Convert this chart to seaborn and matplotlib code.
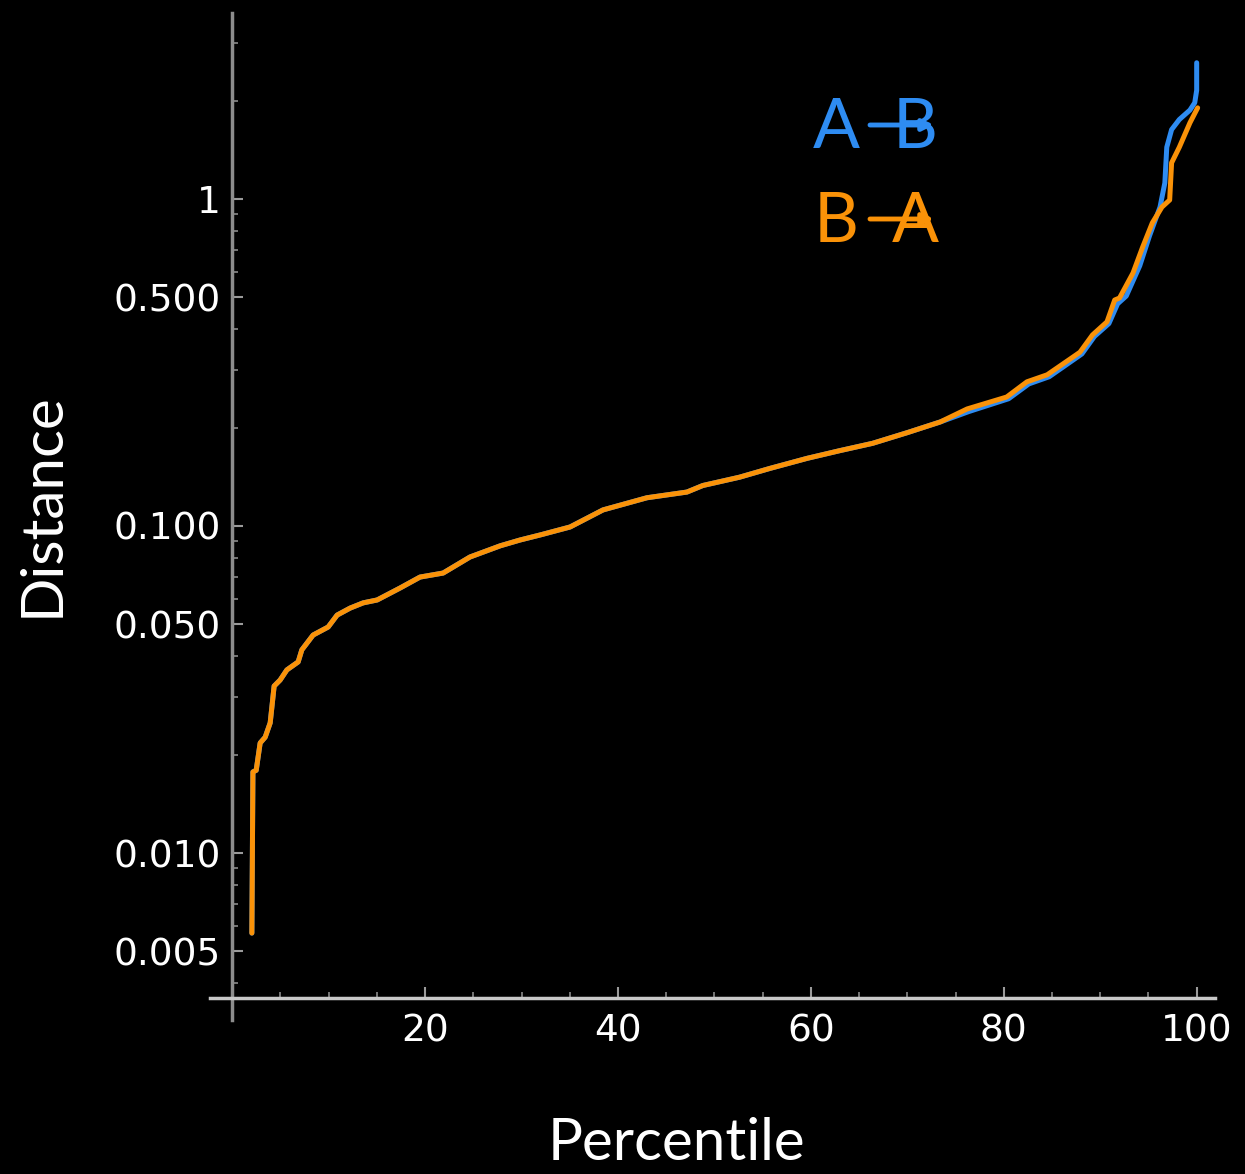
import numpy as np
import pandas as pd
import matplotlib
matplotlib.use("Agg")
import matplotlib.pyplot as plt
import seaborn as sns
from matplotlib.ticker import FixedLocator, NullFormatter

# shared part of both curves (percentile, distance)
common_pct = [2.04, 2.15, 2.49, 2.90, 3.42, 3.94, 4.35, 4.97, 5.67, 6.84, 7.22, 8.39,
              9.95, 10.88, 12.23, 13.58, 15.03, 17.4, 19.48, 21.87, 24.66, 27.8,
              29.84, 32.0, 35.03, 38.45, 43.0, 47.15, 48.8, 52.6, 55.75, 59.6,
              63.0, 66.4, 70.0, 73.4]
common_dist = [0.00569, 0.0177, 0.0179, 0.0217, 0.0226, 0.0250, 0.0324, 0.0338, 0.0363,
               0.0384, 0.0418, 0.0464, 0.0491, 0.0534, 0.0561, 0.0582, 0.0594, 0.0646,
               0.0698, 0.0718, 0.0804, 0.0870, 0.0906, 0.0940, 0.0993, 0.112, 0.122,
               0.127, 0.133, 0.141, 0.150, 0.161, 0.170, 0.179, 0.193, 0.208]

# A -> B tail
ab_pct = [76.4, 80.5, 82.6, 84.7, 87.4, 88.1, 89.4, 90.9, 91.8, 92.7, 94.1, 95.1,
          96.2, 96.7, 96.9, 97.4, 98.2, 99.3, 99.8, 100.0, 100.0]
ab_dist = [0.224, 0.245, 0.272, 0.286, 0.325, 0.336, 0.380, 0.416, 0.478, 0.505,
           0.625, 0.770, 0.945, 1.12, 1.44, 1.63, 1.75, 1.87, 1.97, 2.15, 2.61]

# B -> A tail
ba_pct = [76.2, 80.3, 82.4, 84.5, 87.2, 87.9, 89.2, 90.7, 91.5, 92.0, 93.4, 94.4,
          95.4, 96.4, 97.2, 97.4, 98.2, 99.3, 100.1]
ba_dist = [0.228, 0.248, 0.276, 0.290, 0.329, 0.340, 0.384, 0.421, 0.491, 0.498,
           0.594, 0.713, 0.845, 0.945, 0.993, 1.29, 1.44, 1.71, 1.90]

major_y = [0.005, 0.01, 0.05, 0.1, 0.5, 1]
major_y_labels = ["0.005", "0.010", "0.050", "0.100", "0.500", "1"]
major_x = [20, 40, 60, 80, 100]

blue = "#2e8cf2"
orange = "#fa9208"

df = pd.concat([
    pd.DataFrame({"pct": common_pct + ab_pct, "dist": common_dist + ab_dist, "series": "A→B"}),
    pd.DataFrame({"pct": common_pct + ba_pct, "dist": common_dist + ba_dist, "series": "B→A"}),
])

sns.set_theme(style="ticks")
plt.rcParams["font.family"] = ["DejaVu Sans"]

fig = plt.figure(figsize=(12.45, 11.74), dpi=100, facecolor="black")
ax = fig.add_axes([210 / 1245, 1 - 1020 / 1174, 1005 / 1245, 1007 / 1174])
ax.set_facecolor("black")

sns.lineplot(data=df, x="pct", y="dist", hue="series", palette=[blue, orange],
             estimator=None, sort=False, linewidth=3.6, legend=False, ax=ax)

ax.set_yscale("log")
ax.set_xlim(-2.3, 101.9)
ax.set_ylim(10 ** (-(1020 - 199) / 327), 10 ** ((199 - 13) / 327))

# Mathematica-like axes crossing inside the plot
for s in ["top", "right"]:
    ax.spines[s].set_visible(False)
ax.spines["left"].set_position(("data", 0))
ax.spines["bottom"].set_position(("data", 10 ** (-(998 - 199) / 327)))
ax.spines["left"].set_color("#8c8c8c")
ax.spines["bottom"].set_color("#c8c8c8")
ax.spines["left"].set_linewidth(2.5)
ax.spines["bottom"].set_linewidth(2.5)

ax.xaxis.set_major_locator(FixedLocator(major_x))
ax.xaxis.set_minor_locator(FixedLocator([v for v in range(5, 100, 5) if v not in major_x]))
ax.yaxis.set_major_locator(FixedLocator(major_y))
minor_y = [m * 10.0 ** e for e in range(-3, 1) for m in range(1, 10)
           if not any(np.isclose(m * 10.0 ** e, v) for v in major_y)]
ax.yaxis.set_minor_locator(FixedLocator(minor_y))
ax.yaxis.set_minor_formatter(NullFormatter())
ax.set_yticklabels(major_y_labels)

ax.tick_params(axis="both", which="major", direction="in", length=8, width=1.5,
               colors="#9a9a9a", labelcolor="white", labelsize=27)
ax.tick_params(axis="both", which="minor", direction="in", length=4.5, width=1.2,
               colors="#8a8a8a")
ax.tick_params(axis="y", which="major", pad=8)
ax.tick_params(axis="x", which="major", pad=11)

ax.set_xlabel("")
ax.set_ylabel("")

fig.text(42 / 1245, 1 - 505 / 1174, "Distance", rotation=90, color="white",
         fontsize=42, family=["Lato", "DejaVu Sans"], ha="center", va="center")
fig.text(676 / 1245, 1 - 1143 / 1174, "Percentile", color="white",
         fontsize=42, family=["Lato", "DejaVu Sans"], ha="center", va="center")

# legend-like labels with arrows
for txt_a, txt_b, col, yc in [("A", "B", blue, 129), ("B", "A", orange, 223)]:
    fig.text(836 / 1245, 1 - yc / 1174, txt_a, color=col, fontsize=50,
             family=["Lato", "DejaVu Sans"], ha="center", va="center")
    fig.text(915 / 1245, 1 - yc / 1174, txt_b, color=col, fontsize=50,
             family=["Lato", "DejaVu Sans"], ha="center", va="center")
    ay = 1174 - (yc - 4)
    ax.annotate("", xy=(934, ay), xytext=(870, ay), xycoords="figure pixels",
                textcoords="figure pixels",
                arrowprops=dict(arrowstyle="-|>", color=col, lw=3.5, mutation_scale=16,
                                shrinkA=0, shrinkB=0))

fig.savefig("out.png", dpi=100, facecolor="black")
